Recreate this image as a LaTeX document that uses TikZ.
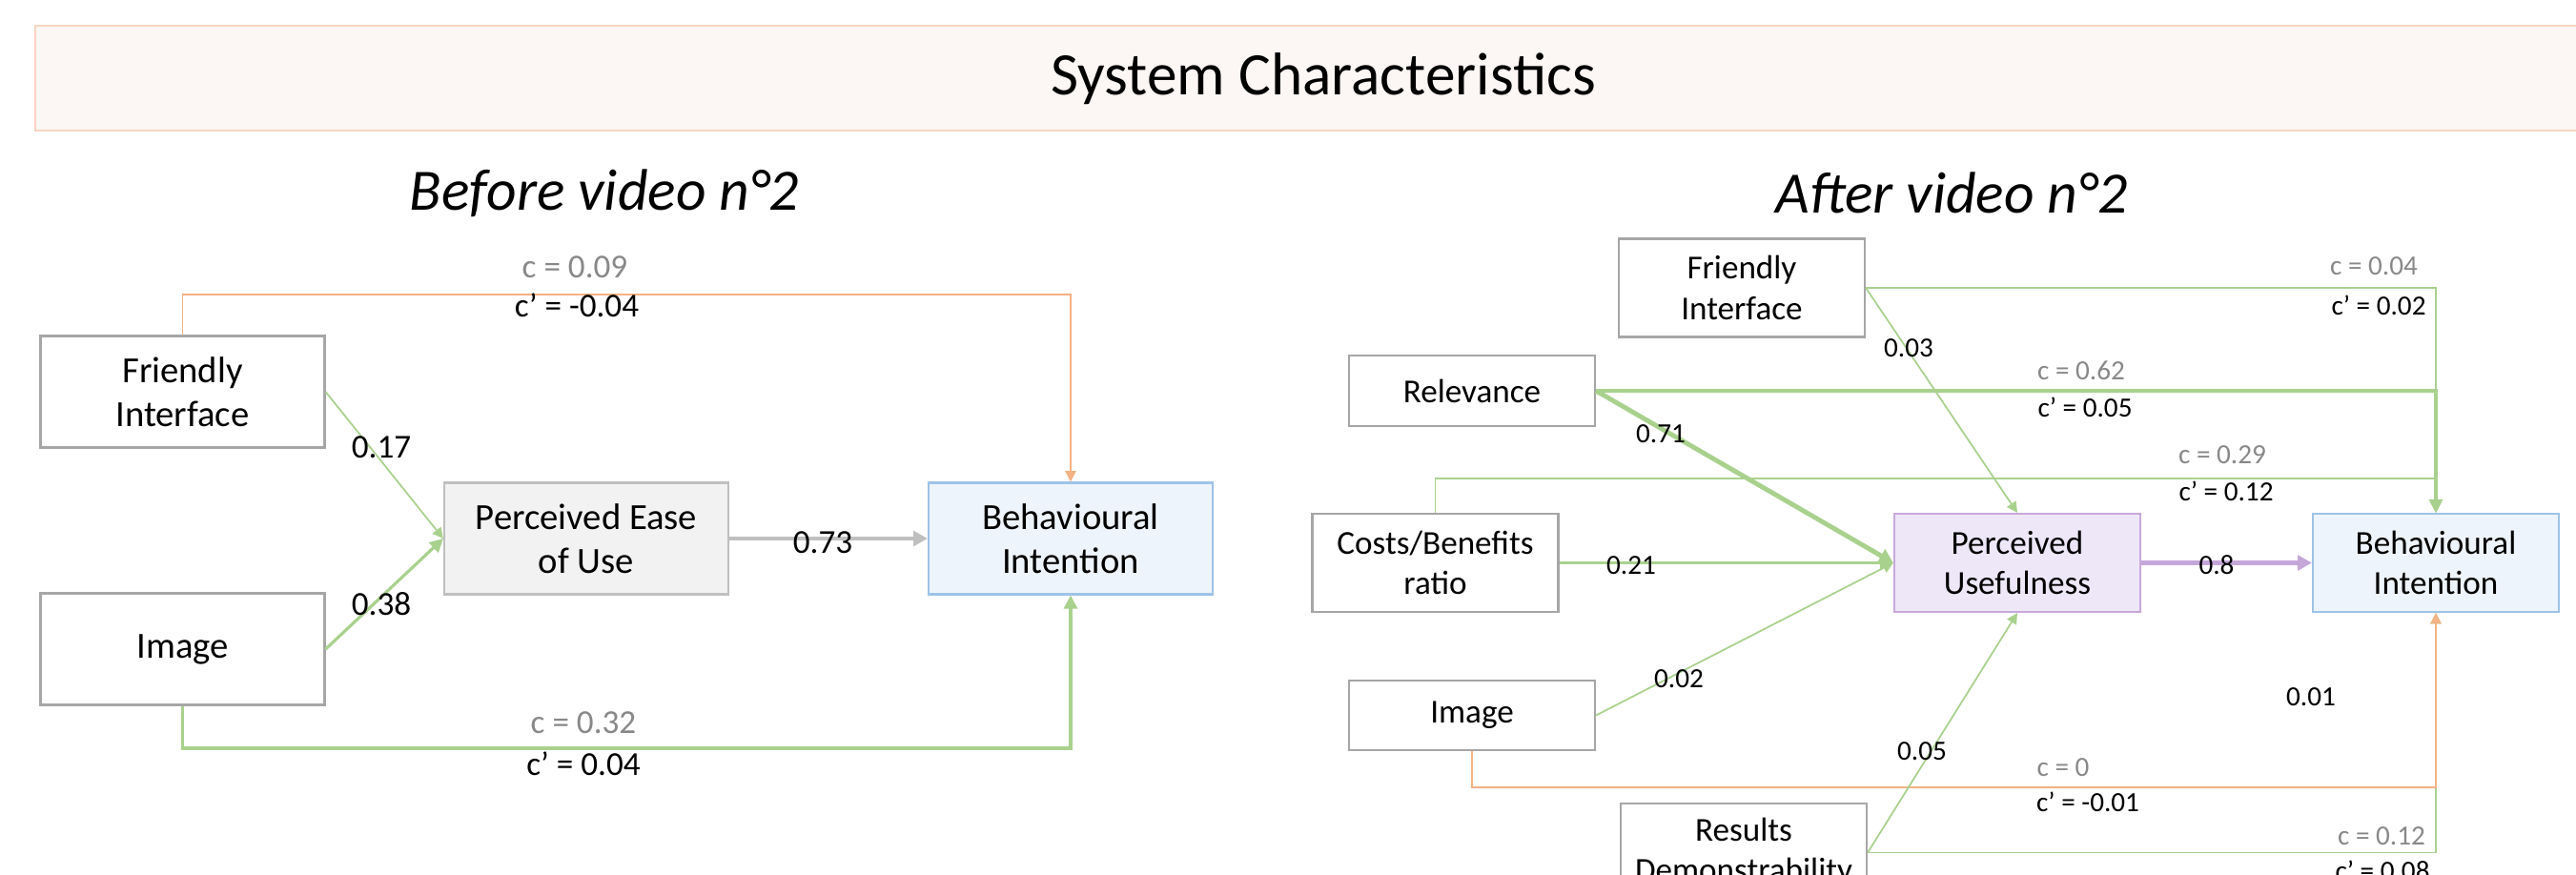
\documentclass[tikz,border=0pt]{standalone}
\usepackage{fontspec}
\setmainfont{Carlito}
\usetikzlibrary{arrows.meta}
\definecolor{pathgreen}{HTML}{A9D18E}
\definecolor{pathorange}{HTML}{F4B183}
\definecolor{pathgray}{HTML}{BFBFBF}
\definecolor{pathpurple}{HTML}{C5A6D9}
\definecolor{boxgray}{HTML}{A6A6A6}
\definecolor{peoufill}{HTML}{F2F2F2}
\definecolor{bifill}{HTML}{EEF4FB}
\definecolor{biborder}{HTML}{9DC3E6}
\definecolor{pufill}{HTML}{EDE7F8}
\definecolor{puborder}{HTML}{C8A8DA}
\definecolor{titlefill}{HTML}{FCF6F4}
\definecolor{titleborder}{HTML}{F8D5C2}
\definecolor{totalgray}{HTML}{888888}
\tikzset{
	box/.style={draw=boxgray,line width=0.6pt,fill=white,align=center,inner sep=0pt},
	bigbox/.style={box,minimum width=2.98cm,minimum height=1.17cm,
		font=\fontsize{11}{13}\selectfont},
	smallbox/.style={box,minimum width=2.58cm,minimum height=1.03cm,
		font=\fontsize{10}{12}\selectfont},
	coef/.style={inner sep=0pt,font=\fontsize{10}{12}\selectfont},
	coefs/.style={inner sep=0pt,font=\fontsize{8.3}{10}\selectfont},
	thin/.style={line width=0.5pt,-{Triangle[length=3.2pt,width=3.2pt]}},
	mid/.style={line width=0.9pt,-{Triangle[length=4pt,width=4pt]}},
	thick/.style={line width=1.4pt,-{Triangle[length=4.2pt,width=4.4pt]}}
}
\begin{document}
\begin{tikzpicture}
		\useasboundingbox (0,0) rectangle (27.02,-9.18);
		\draw[titleborder,fill=titlefill,line width=0.8pt] (0.37,-0.27) rectangle (27.3,-1.37);
		\node[font=\fontsize{18}{20}\selectfont] (title) at (13.88,-0.83) {System Characteristics};
		\node[font=\fontsize{17.5}{20}\selectfont\itshape] (before) at (6.34,-2.03) {Before video n°2};
		\node[font=\fontsize{17.5}{20}\selectfont\itshape] (after) at (20.47,-2.02) {After video n°2};
		% before
		\node[bigbox] (fiL) at (1.915,-4.11) {Friendly\\Interface};
		\node[bigbox] (imgL) at (1.915,-6.81) {Image};
		\node[bigbox,fill=peoufill,draw=pathgray] (peou) at (6.15,-5.65) {Perceived Ease\\of Use};
		\node[bigbox,fill=bifill,draw=biborder] (biL) at (11.23,-5.65) {Behavioural\\Intention};
		\coordinate (topL) at (1.915,-3.09);
		\coordinate (botL) at (1.915,-7.85);
		\draw[thin,pathorange] (fiL.north) -- (topL) -| (biL.north);
		\draw[mid,pathgreen] (imgL.south) -- (botL) -| (biL.south);
		\draw[thin,pathgreen] (fiL.east) -- (peou.west);
		\draw[mid,pathgreen] (imgL.east) -- (peou.west);
		\draw[thick,pathgray] (peou.east) -- (biL.west);
		\node[coef,totalgray] (cL1) at (6.03,-2.80) {c = 0.09};
		\node[coef] (dL1) at (6.05,-3.20) {c’ = -0.04};
		\node[coef] (aL1) at (4.00,-4.69) {0.17};
		\node[coef] (aL2) at (4.00,-6.34) {0.38};
		\node[coef] (bL) at (8.63,-5.69) {0.73};
		\node[coef,totalgray] (cL2) at (6.12,-7.58) {c = 0.32};
		\node[coef] (dL2) at (6.12,-8.01) {c’ = 0.04};
		% after
		\node[smallbox] (fiR) at (18.27,-3.02) {Friendly\\Interface};
		\node[smallbox,minimum height=0.74cm] (rel) at (15.44,-4.10) {Relevance};
		\node[smallbox] (cb) at (15.055,-5.905) {Costs/Benefits\\ratio};
		\node[smallbox,minimum height=0.73cm] (imgR) at (15.44,-7.505) {Image};
		\node[smallbox] (rd) at (18.29,-8.945) {Results\\Demonstrability};
		\node[smallbox,fill=pufill,draw=puborder] (pu) at (21.16,-5.905) {Perceived\\Usefulness};
		\node[smallbox,fill=bifill,draw=biborder] (biR) at (25.55,-5.905) {Behavioural\\Intention};
		\coordinate (cbTurn) at (15.055,-5.02);
		\coordinate (imgTurn) at (15.44,-8.26);
		\draw[thin,pathgreen] (fiR.east) -| (biR.north);
		\draw[mid,pathgreen] (rel.east) -| (biR.north);
		\draw[thin,pathgreen] (cb.north) -- (cbTurn) -| (biR.north);
		\draw[thin,pathgreen] (rd.east) -| (biR.south);
		\draw[thin,pathorange] (imgR.south) -- (imgTurn) -| (biR.south);
		\draw[thin,pathgreen] (fiR.east) -- (pu.north);
		\draw[thick,pathgreen] (rel.east) -- (pu.west);
		\draw[mid,pathgreen] (cb.east) -- (pu.west);
		\draw[thin,pathgreen] (imgR.east) -- (pu.west);
		\draw[thin,pathgreen] (rd.east) -- (pu.south);
		\draw[thick,pathpurple] (pu.east) -- (biR.west);
		\node[coefs] (aR1) at (20.02,-3.65) {0.03};
		\node[coefs] (aR2) at (17.42,-4.55) {0.71};
		\node[coefs] (aR3) at (17.11,-5.93) {0.21};
		\node[coefs] (aR4) at (17.61,-7.12) {0.02};
		\node[coefs] (aR5) at (20.16,-7.88) {0.05};
		\node[coefs] (bR) at (23.25,-5.93) {0.8};
		\node[coefs] (eR) at (24.24,-7.31) {0.01};
		\node[coefs,totalgray] (cR1) at (24.90,-2.79) {c = 0.04};
		\node[coefs] (dR1) at (24.95,-3.20) {c’ = 0.02};
		\node[coefs,totalgray] (cR2) at (21.83,-3.89) {c = 0.62};
		\node[coefs] (dR2) at (21.87,-4.27) {c’ = 0.05};
		\node[coefs,totalgray] (cR3) at (23.31,-4.77) {c = 0.29};
		\node[coefs] (dR3) at (23.35,-5.15) {c’ = 0.12};
		\node[coefs,totalgray] (cR4) at (21.64,-8.05) {c = 0};
		\node[coefs] (dR4) at (21.90,-8.41) {c’ = -0.01};
		\node[coefs,totalgray] (cR5) at (24.98,-8.77) {c = 0.12};
		\node[coefs] (dR5) at (24.99,-9.13) {c’ = 0.08};
\end{tikzpicture}
\end{document}
